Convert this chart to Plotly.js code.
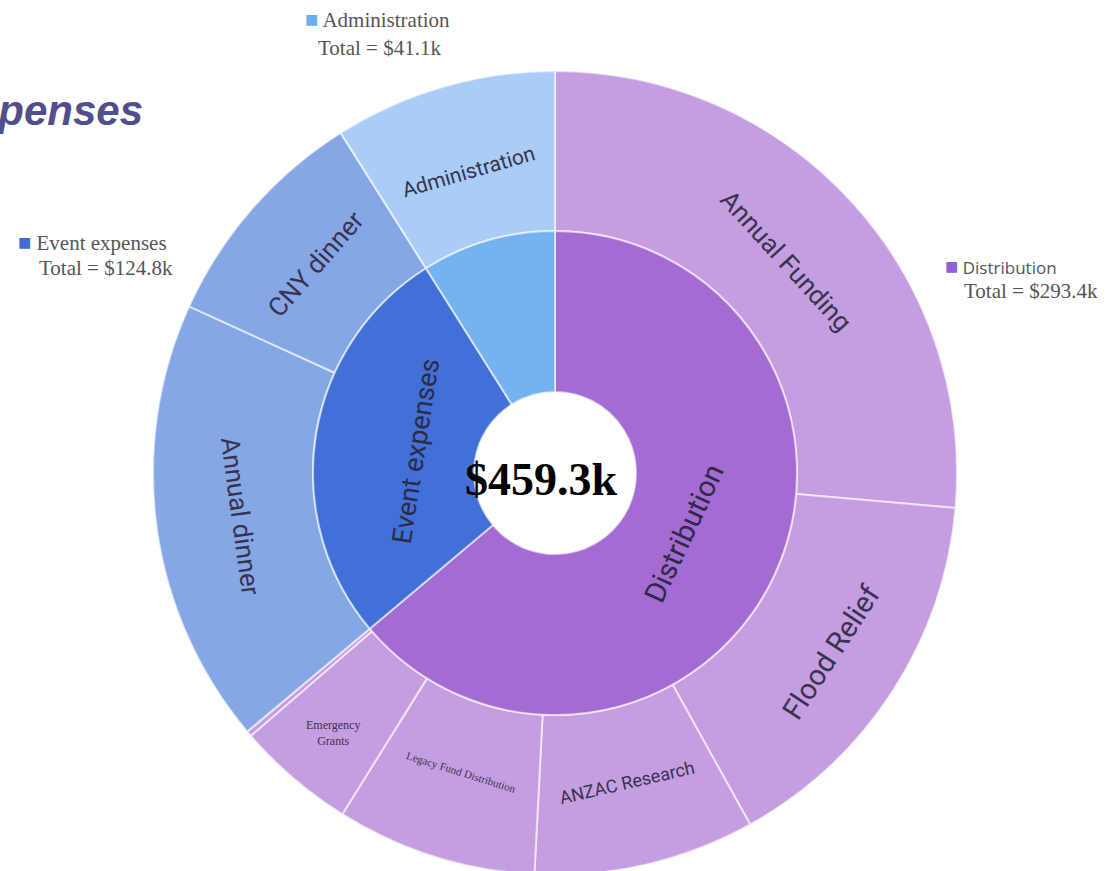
<!DOCTYPE html>
<html>
<head>
<meta charset="utf-8">
<script src="https://cdn.plot.ly/plotly-3.0.1.min.js"></script>
<style>
  html, body { margin: 0; padding: 0; overflow: hidden; background: #ffffff; }
  #chart { width: 1110px; height: 880px; }
</style>
</head>
<body>
<div id="chart"></div>
<script>
// ---- data ----
const groupLabels = ['Distribution', 'Event expenses', 'Administration'];
const groupValues = [293.4, 124.8, 41.1];
const itemLabels = ['Annual Funding', 'Flood Relief', 'ANZAC Research', 'Legacy Fund Distribution',
                    'Emergency Grants', 'Other', 'Annual dinner', 'CNY dinner', 'Administration'];
const itemParents = ['Distribution', 'Distribution', 'Distribution', 'Distribution',
                     'Distribution', 'Distribution', 'Event expenses', 'Event expenses', 'Administration'];
const itemValues = [121.2, 71.4, 40.8, 37.0, 22.0, 1.0, 82.3, 42.5, 41.1];
const chartTitle = 'Expenses';

// ---- styling ----
const W = 1110, H = 880;
const cx = 555, cy = 473, R = 402, Rmid = 242, Rhole = 81;
const groupColors = {'Distribution': '#a46cd3', 'Event expenses': '#4070d8', 'Administration': '#74b2f0'};
const itemColors = {'Distribution': '#c59ee2', 'Event expenses': '#86a7e6', 'Administration': '#a9cdf6'};
const legendColors = {'Distribution': '#9060d8', 'Event expenses': '#3e6ad6', 'Administration': '#6aaef0'};
const sans = 'Roboto, Noto Sans, sans-serif';
const serif = 'Liberation Serif, Times New Roman, serif';

// label styles: [font size, family, radius factor, horizontal?, display text]
const itemStyle = {
  'Annual Funding':           {size: 26, family: sans, rf: 0.78},
  'Flood Relief':             {size: 29, family: sans, rf: 0.82},
  'ANZAC Research':           {size: 18, family: sans, rf: 0.79},
  'Legacy Fund Distribution': {size: 11, family: serif, rf: 0.78},
  'Emergency Grants':         {size: 12, family: serif, rf: 0.85, flat: true, text: 'Emergency<br>Grants'},
  'Annual dinner':            {size: 26, family: sans, rf: 0.79},
  'CNY dinner':               {size: 26, family: sans, rf: 0.79},
  'Administration':           {size: 21, family: sans, rf: 0.78}
};
const groupStyle = {
  'Distribution':   {size: 29, family: sans, rf: 0.59},
  'Event expenses': {size: 27, family: sans, rf: 0.58}
};

function dom(r) {
  return {x: [(cx - r) / W, (cx + r) / W], y: [1 - (cy + r) / H, 1 - (cy - r) / H]};
}
const px = v => v / W;
const py = v => 1 - v / H;
const fmt = v => '$' + v.toFixed(1) + 'k';
const sum = a => a.reduce((s, v) => s + v, 0);

const outer = {
  type: 'pie',
  labels: itemLabels,
  values: itemValues,
  textinfo: 'none',
  sort: false,
  direction: 'clockwise',
  rotation: 0,
  hole: Rmid / R,
  domain: dom(R),
  marker: {colors: itemParents.map(p => itemColors[p]), line: {color: 'rgba(255,255,255,0.6)', width: 2}},
  hoverinfo: 'label+value',
  showlegend: false
};

const inner = {
  type: 'pie',
  labels: groupLabels,
  values: groupValues,
  textinfo: 'none',
  sort: false,
  direction: 'clockwise',
  rotation: 0,
  hole: Rhole / Rmid,
  domain: dom(Rmid),
  marker: {colors: groupLabels.map(l => groupColors[l]), line: {color: 'rgba(255,255,255,0.6)', width: 2}},
  hoverinfo: 'label+value',
  showlegend: false
};

// tangential slice labels placed at each slice's mid-angle
function sliceLabels(labels, values, styles, ringR, color) {
  const total = sum(values);
  const out = [];
  let acc = 0;
  labels.forEach((l, i) => {
    const mid = (acc + values[i] / 2) / total * 360;
    acc += values[i];
    const st = styles[l];
    if (!st) return;
    const a = mid * Math.PI / 180;
    const r = st.rf * ringR;
    let rot = mid;
    if (rot > 90 && rot < 270) rot -= 180; else if (rot >= 270) rot -= 360;
    out.push({
      xref: 'paper', yref: 'paper',
      x: px(cx + r * Math.sin(a)), y: py(cy - r * Math.cos(a)),
      xanchor: 'center', yanchor: 'middle', showarrow: false,
      textangle: st.flat ? 0 : rot,
      text: st.text || l,
      font: {family: st.family, size: st.size, color: color}
    });
  });
  return out;
}

const serifGray = {family: serif, size: 21, color: '#555555'};
function legendBlock(name, hx, hy, tx, ty, nameFont) {
  const idx = groupLabels.indexOf(name);
  return [
    {xref: 'paper', yref: 'paper', x: px(hx), y: py(hy), xanchor: 'left', yanchor: 'middle', showarrow: false,
     text: '<span style="color:' + legendColors[name] + ';font-size:22px">■</span> ' + name,
     font: nameFont},
    {xref: 'paper', yref: 'paper', x: px(tx), y: py(ty), xanchor: 'left', yanchor: 'middle', showarrow: false,
     text: 'Total = ' + fmt(groupValues[idx]), font: serifGray}
  ];
}

const annotations = [
  ...sliceLabels(itemLabels, itemValues, itemStyle, R, '#3a3350'),
  ...sliceLabels(groupLabels, groupValues, groupStyle, Rmid, '#2e2a48'),
  {xref: 'paper', yref: 'paper', x: px(cx - 14), y: py(cy + 6), xanchor: 'center', yanchor: 'middle', showarrow: false,
   text: '<b>' + fmt(sum(groupValues)) + '</b>', font: {family: serif, size: 46, color: '#000000'}},
  ...legendBlock('Administration', 303, 20, 316, 48, serifGray),
  ...legendBlock('Event expenses', 16, 242, 37, 268, serifGray),
  ...legendBlock('Distribution', 943, 265, 962, 291, {family: 'Open Sans, sans-serif', size: 17, color: '#555555'})
];

const layout = {
  width: W,
  height: H,
  margin: {l: 0, r: 0, t: 0, b: 0},
  paper_bgcolor: '#ffffff',
  title: {
    text: chartTitle,
    xref: 'container', yref: 'container',
    x: 143 / W, xanchor: 'right',
    y: 1 - 110 / H, yanchor: 'middle',
    font: {family: 'Liberation Sans, Arial, sans-serif', size: 42, color: '#514f8b', weight: 'bold', style: 'italic'}
  },
  annotations: annotations,
  showlegend: false
};

Plotly.newPlot('chart', [outer, inner], layout, {displayModeBar: false, staticPlot: true});
</script>
</body>
</html>
